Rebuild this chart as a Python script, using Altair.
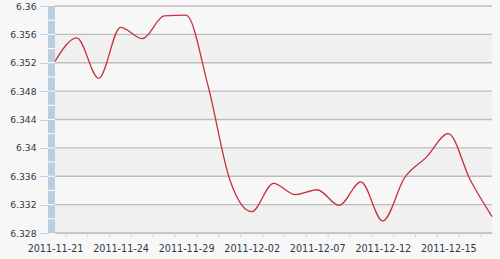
import altair as alt
import pandas as pd

dates = ["2011-11-21", "2011-11-22", "2011-11-23", "2011-11-24", "2011-11-25",
         "2011-11-28", "2011-11-29", "2011-11-30", "2011-12-01", "2011-12-02",
         "2011-12-05", "2011-12-06", "2011-12-07", "2011-12-08", "2011-12-09",
         "2011-12-12", "2011-12-13", "2011-12-14", "2011-12-15", "2011-12-16",
         "2011-12-19"]
rates = [6.3522, 6.3555, 6.3498, 6.3570, 6.3554, 6.3586, 6.3587, 6.3488,
         6.3355, 6.3310, 6.3350, 6.3334, 6.3341, 6.3319, 6.3352, 6.3297,
         6.3358, 6.3387, 6.3420, 6.3355, 6.3303]
y_ticks = [6.328, 6.332, 6.336, 6.34, 6.344, 6.348, 6.352, 6.356, 6.36]
y_minor = [6.328, 6.330, 6.332, 6.334, 6.336, 6.338, 6.340, 6.342, 6.344,
           6.346, 6.348, 6.350, 6.352, 6.354, 6.356, 6.358, 6.360]
label_every = 3

W, H = 437, 227
FONT = "DejaVu Sans"
TXT = "#2b3a48"

df = pd.DataFrame({"i": list(range(len(dates))), "date": dates, "rate": rates})
mids = pd.DataFrame({"m": [k + 0.5 for k in range(len(dates) - 1)]})
bands = pd.DataFrame({"lo": [y_ticks[k] for k in range(0, len(y_ticks) - 1, 2)],
                      "hi": [y_ticks[k + 1] for k in range(0, len(y_ticks) - 1, 2)]})
grid = pd.DataFrame({"v": y_ticks})
notch = pd.DataFrame({"v": y_minor[1:-1]})

label_expr = "[" + ",".join(f"'{d}'" for d in dates) + "][datum.value]"

xs = alt.Scale(domain=[0, len(dates) - 1], nice=False, zero=False)
ys = alt.Scale(domain=[y_ticks[0], y_ticks[-1]], nice=False, zero=False)

xaxis = alt.Axis(values=list(range(0, len(dates), label_every)),
                 labelExpr=label_expr, title=None, grid=False,
                 ticks=False, tickSize=0, domain=True,
                 domainColor="#c3d2e2", domainWidth=1,
                 labelFont=FONT, labelFontSize=9.6, labelColor=TXT,
                 labelPadding=10, labelFlush=False, labelOverlap=False)
yaxis = alt.Axis(values=y_ticks, format=".3~f", title=None, grid=False,
                 domain=False, ticks=True, tickSize=8, tickColor="#c3d2e2",
                 offset=7, labelFont=FONT, labelFontSize=9.2,
                 labelColor=TXT, labelPadding=4, labelOverlap=False,
                 labelFlush=False)

band_layer = alt.Chart(bands).mark_rect(color="#f0f0f0").encode(
    x=alt.value(0), x2=alt.value(W),
    y=alt.Y("lo:Q", scale=ys, axis=yaxis), y2="hi:Q")

grid_layer = alt.Chart(grid).mark_rule(color="#bdbdbd", strokeWidth=1.4).encode(
    x=alt.value(0), x2=alt.value(W),
    y=alt.Y("v:Q", scale=ys, axis=yaxis))

bar_layer = alt.Chart(grid.head(1)).mark_rect(color="#bccde0").encode(
    x=alt.value(-7), x2=alt.value(0), y=alt.value(0), y2=alt.value(H))

notch_layer = alt.Chart(notch).mark_rule(color="#ffffff", strokeWidth=1).encode(
    x=alt.value(-7), x2=alt.value(0),
    y=alt.Y("v:Q", scale=ys, axis=yaxis))

tick_layer = alt.Chart(mids).mark_rule(color="#c3d2e2", strokeWidth=1).encode(
    x=alt.X("m:Q", scale=xs, axis=xaxis),
    y=alt.value(H), y2=alt.value(H + 4))

line_layer = alt.Chart(df).mark_line(color="#c8303e", strokeWidth=1.3,
                                      interpolate="monotone").encode(
    x=alt.X("i:Q", scale=xs, axis=xaxis),
    y=alt.Y("rate:Q", scale=ys, axis=yaxis))

chart = alt.layer(band_layer, grid_layer, bar_layer, notch_layer, tick_layer,
                  line_layer).properties(
    width=W, height=H,
    autosize=alt.AutoSizeParams(type="none"),
    padding={"left": 55, "top": 6, "right": 8, "bottom": 26},
    background="#f7f7f7",
).configure_view(stroke=None, fill="#f7f7f7")

chart.save("out.html", embed_options={"renderer": "svg", "actions": False})
